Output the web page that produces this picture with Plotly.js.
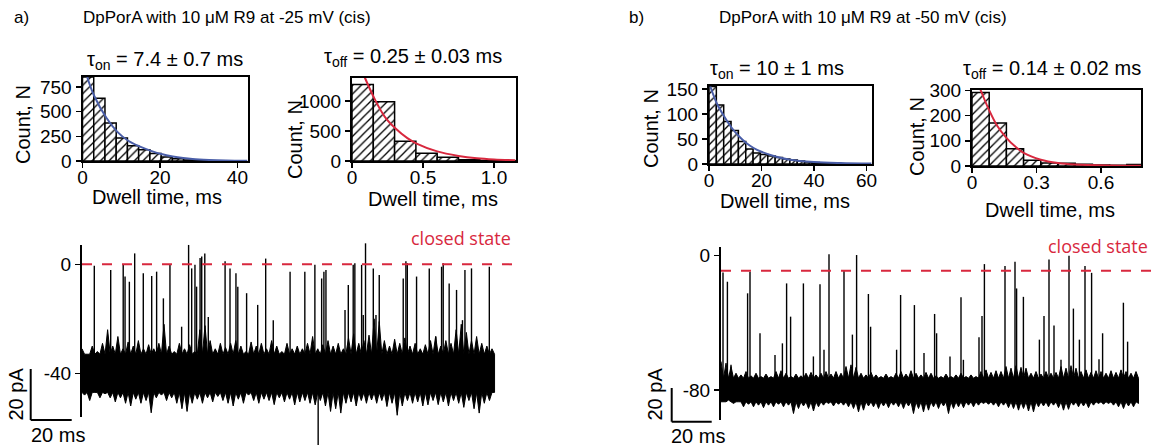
<!DOCTYPE html>
<html>
<head>
<meta charset="utf-8">
<script src="https://cdn.plot.ly/plotly-3.0.1.min.js"></script>
<style>html,body{margin:0;padding:0;background:#fff;}#chart{width:1152px;height:447px;}</style>
</head>
<body>
<div id="chart"></div>
<script>
// ---------------- DATA ----------------
// Panel a) histograms (-25 mV)
const aOnBins   = [0, 2.9, 5.8, 8.7, 11.6, 14.5, 17.4, 20.3, 23.2, 26.1, 29, 31.9, 34.8, 37.7];
const aOnCounts = [850, 635, 384, 233, 154, 113, 75, 41, 24, 10, 4, 2, 1, 1];
const aOnBinWidth = 2.9;
const aOnFitT = [1.2, 3, 6.2, 9, 11.8, 14.7, 17.7, 20.4, 23.3, 26, 28.4, 32.7, 37, 42.6];
const aOnFitN = [850, 660, 435, 295, 205, 148, 103, 70, 46, 30, 20, 11, 6, 3];

const aOffBins   = [0, 0.15, 0.3, 0.45, 0.6, 0.75, 0.9, 1.05];
const aOffCounts = [1275, 985, 330, 130, 61, 20, 10, 5];
const aOffBinWidth = 0.15;
const aOffFitT = [0.09, 0.16, 0.23, 0.307, 0.39, 0.455, 0.6, 0.75, 0.88, 1.0, 1.15];
const aOffFitN = [1390, 1030, 740, 540, 380, 290, 160, 85, 45, 25, 12];

// Panel b) histograms (-50 mV)
const bOnBins   = [0, 2.8, 5.6, 8.4, 11.2, 14, 16.8, 19.6, 22.4, 25.2, 28, 30.8, 33.6, 36.4, 39.2, 42, 44.8, 47.6];
const bOnCounts = [155, 118, 85, 67, 45, 30, 22, 19, 16, 13, 10, 8, 6, 4, 3, 2, 1, 1];
const bOnBinWidth = 2.8;
const bOnFitT = [0.5, 3.0, 5.8, 8.7, 11.5, 14.2, 17, 19.7, 25.3, 30.9, 40, 50, 62];
const bOnFitN = [155, 121, 95, 72, 55, 42, 32, 25, 15, 8.5, 4, 2, 1];

const bOffBins   = [0, 0.08, 0.16, 0.24, 0.32, 0.4, 0.48, 0.56, 0.64, 0.72];
const bOffCounts = [292, 171, 69, 23, 12, 11, 7, 4, 3, 6];
const bOffBinWidth = 0.08;
const bOffFitT = [0.039, 0.078, 0.117, 0.16, 0.2, 0.24, 0.32, 0.4, 0.48, 0.64, 0.786];
const bOffFitN = [304, 225, 160, 112, 78, 52, 25, 12, 6, 2, 1];

// Current traces: open-channel noise (pA). Dense core limits, plus the upper and
// lower noise excursions sampled every 2.5 ms, plus the gating spikes.
const bandStep = 2.5;
const coreA = [-33, -47];
const bandHiA = [-31,-33,-30,-32,-29,-24,-30,-26.5,-31,-28.5,-30,-28,-31,-29.5,-31,-29,-22,-30,-32,-29,
  -31,-29.5,-32,-24,-22.5,-28,-31,-29,-30.5,-29,-28,-30,-32,-28.5,-30,-29,-31,-28,-30,-32,
  -29,-31,-30,-31,-29,-26.5,-31,-29.5,-28,-30,-29,-31,-27,-25.5,-29,-28,-26,-20,-21,-28,
  -30,-27.5,-29,-27,-30,-29,-31,-29.5,-28,-26.5,-30,-28,-29,-24,-22,-25,-28,-26.5,-29,-30,-31];
const bandLoA = [-48,-50,-47,-49,-47.5,-49,-50.5,-49,-51,-52,-49.5,-51,-50,-54.5,-49,-48,-50,-49,-51,-53,
  -54,-51,-49.5,-51,-49,-50.5,-48.5,-50,-51,-52,-49.5,-51,-48,-50,-51,-49.5,-50,-51.5,-49,-50.5,
  -49.5,-51.6,-50.5,-50,-51,-51.6,-50,-52,-54,-53,-54.6,-51,-50.5,-52,-50,-51,-49.8,-51,-50,-52.2,
  -51,-55.4,-52,-50,-51,-50.5,-52,-51.6,-50,-51.5,-50.5,-52,-50,-51,-52.5,-50,-53,-54.6,-51,-50,-47];
const openLevelA = -40;
const closedLevelA = 0;
const spikeTA = [6.0,14.0,20.1,21.0,23.1,25.7,29.9,34.0,36.4,39.7,42.9,48.6,52.0,53.5,55.1,55.9,57.6,58.4,59.9,61.6,
  69.8,72.2,75.1,76.0,80.3,85.7,89.6,93.3,101.5,108.7,113.6,115.2,116.9,118.0,119.0,128.3,129.9,132.3,133.1,136.4,
  137.2,138.3,142.1,143.4,145.0,156.7,158.0,158.7,163.2,169.4,172.6,175.4,176.2,179.1,182.7,185.6,186.8,190.0,198.7];
const spikePA = [-0.5,-2.1,0.0,-4.5,-6.4,4.0,-3.3,-4.3,-2.7,-12.5,-0.2,-22.9,7.1,-1.5,-0.2,-8.2,2.3,2.9,4.0,-19.3,
  1.1,-1.5,-3.3,-8.2,-10.6,-14.9,2.1,-20.5,-2.7,-2.7,-0.2,-66.3,-5.2,-2.7,-2.1,-16.8,-7.6,-0.2,0.4,-0.2,
  -18.6,7.7,-1.5,-18.6,-3.9,-5.2,1.1,0.4,-4.5,-1.5,-26.5,-0.9,0.4,-7.0,-9.4,-20.5,-2.1,-1.5,-0.9];

const coreB = [-73, -87];
const bandHiB = [-63,-64,-66,-70,-71,-69,-71.5,-70,-72,-70.5,-72,-69,-68.5,-70,-72,-70.5,-71.5,-70,-69.5,-71,
  -70,-69,-70.5,-69,-70,-66,-65,-66.5,-70,-71,-69.5,-71,-72,-70.5,-72,-70,-69,-70.5,-68.5,-70,
  -71,-69.5,-70,-71.5,-72,-70.5,-72,-71,-70,-72,-71,-72,-69,-68,-69.5,-68.5,-69,-66,-67,-65.5,
  -66.5,-67,-70,-69,-70.5,-69,-70,-69.5,-66,-67,-65.5,-67,-69,-68,-69.5,-68.5,-69,-70,-68.5,-69.5,
  -68,-69,-70,-69];
const bandLoB = [-87,-86,-88,-87,-90,-88.5,-90,-89,-90.5,-89,-90,-88.5,-90,-89,-94,-91,-89.5,-91,-92.5,-90,
  -89,-88,-89.5,-88.5,-89,-90,-91,-93,-92,-89.5,-90,-91,-89.5,-90.5,-89,-90,-91,-89.5,-94,-91,
  -93,-92,-90,-91,-89.5,-94,-91,-90,-90.5,-89,-90,-89,-88,-88.5,-89,-90,-89,-90.5,-91,-92,
  -91,-92.5,-93,-90,-89.5,-90,-89,-90.5,-92,-91.5,-89,-90,-89.5,-90.5,-89,-88,-88.5,-88,-89,-90,
  -91,-89.5,-90,-88];
const openLevelB = -80;
const closedLevelB = -9;
const spikeTB = [1.0,3.2,5.0,13.3,14.5,19.5,27.0,30.7,32.8,34.8,41.2,46.2,49.5,51.5,54.0,61.5,65.7,67.8,73.7,74.8,
  87.8,89.8,96.7,101.5,106.8,107.8,114.5,120.0,121.2,129.0,130.5,131.7,142.0,147.0,147.8,151.2,159.2,161.5,164.0,166.5,
  170.0,174.0,176.2,179.2,182.0,185.3,189.0,190.8,201.2,203.3];
const spikePB = [-10,-15.5,-65,-22.4,-9.5,-46.2,-59.2,-52.2,-16.5,-36.3,-16.5,-60,-17,-56,0.8,-8.5,-47,0.4,-22.8,-42.3,
  -56,-23.4,-29.4,-58,-34.7,-46.2,-60,-24.8,-62,-48.6,-35.9,-5.0,-6.2,-3.6,-19.5,-24.5,-50,-35.9,-2.2,-41.5,
  -62,0,-31.5,-50,-6.2,-10.2,-61.7,-46.2,-28,-51.2];

// Text
const titleA = 'DpPorA with 10 μM R9 at -25 mV (cis)';
const titleB = 'DpPorA with 10 μM R9 at -50 mV (cis)';
const tauAOn = 'τ<sub>on</sub> = 7.4 ± 0.7 ms';
const tauAOff = 'τ<sub>off</sub> = 0.25 ± 0.03 ms';
const tauBOn = 'τ<sub>on</sub> = 10 ± 1 ms';
const tauBOff = 'τ<sub>off</sub> = 0.14 ± 0.02 ms';

// ---------------- LAYOUT HELPERS ----------------
const W = 1152, H = 447;
const F = 'Liberation Sans, Arial, Helvetica, sans-serif';
const RED = '#d8283e', BLUE = '#4a5ea8';
const xd = (a, b) => [a / W, b / W];
const yd = (top, bottom) => [1 - bottom / H, 1 - top / H];
const px = p => p / W;
const py = p => 1 - p / H;

function histAxis(extra) {
  return Object.assign({
    showline: true, linecolor: 'black', linewidth: 2, mirror: true,
    ticks: 'outside', ticklen: 5, tickwidth: 1.5, tickcolor: 'black',
    showgrid: false, zeroline: false, fixedrange: true,
    tickfont: {family: F, size: 19, color: 'black'}
  }, extra);
}
const hidden = {visible: false, showgrid: false, zeroline: false, fixedrange: true};

function barTrace(bins, counts, w, xa, ya) {
  return {type: 'bar', x: bins, y: counts, width: w, offset: 0, xaxis: xa, yaxis: ya,
    marker: {color: 'white', line: {color: 'black', width: 1.5},
      pattern: {shape: '/', fgcolor: 'black', bgcolor: 'white', size: 6, solidity: 0.22}},
    hoverinfo: 'skip', showlegend: false};
}
function fitTrace(t, n, color, xa, ya) {
  return {type: 'scatter', mode: 'lines', x: t, y: n, xaxis: xa, yaxis: ya,
    line: {color: color, width: 2, shape: 'spline'}, hoverinfo: 'skip', showlegend: false};
}
// noise band: filled core whose edges are jagged by the sampled excursions
function bandTrace(hi, lo, core, xa, ya) {
  const x = [], y = [];
  hi.forEach((h, i) => { x.push(i * bandStep, i * bandStep + bandStep / 2); y.push(h, core[0]); });
  for (let i = lo.length - 1; i >= 0; i--) { x.push(i * bandStep + bandStep / 2, i * bandStep); y.push(lo[i], core[1]); }
  return {type: 'scatter', mode: 'lines', x: x, y: y, fill: 'toself', fillcolor: 'black',
    line: {color: 'black', width: 1}, xaxis: xa, yaxis: ya, hoverinfo: 'skip', showlegend: false};
}
function spikeTrace(ts, ps, base, xa, ya) {
  const x = [], y = [];
  ts.forEach((t, i) => { x.push(t, t, null); y.push(base, ps[i], null); });
  return {type: 'scatter', mode: 'lines', x: x, y: y, line: {color: 'black', width: 1.4},
    xaxis: xa, yaxis: ya, hoverinfo: 'skip', showlegend: false};
}
function closedTrace(level, xEnd, xa, ya) {
  return {type: 'scatter', mode: 'lines', x: [0, xEnd], y: [level, level],
    line: {color: RED, width: 2, dash: '10px,10px'}, xaxis: xa, yaxis: ya, hoverinfo: 'skip', showlegend: false};
}

const data = [
  barTrace(aOnBins, aOnCounts, aOnBinWidth, 'x', 'y'),
  fitTrace(aOnFitT, aOnFitN, BLUE, 'x', 'y'),
  barTrace(aOffBins, aOffCounts, aOffBinWidth, 'x2', 'y2'),
  fitTrace(aOffFitT, aOffFitN, RED, 'x2', 'y2'),
  barTrace(bOnBins, bOnCounts, bOnBinWidth, 'x3', 'y3'),
  fitTrace(bOnFitT, bOnFitN, BLUE, 'x3', 'y3'),
  barTrace(bOffBins, bOffCounts, bOffBinWidth, 'x4', 'y4'),
  fitTrace(bOffFitT, bOffFitN, RED, 'x4', 'y4'),
  bandTrace(bandHiA, bandLoA, coreA, 'x5', 'y5'),
  spikeTrace(spikeTA, spikePA, openLevelA, 'x5', 'y5'),
  closedTrace(closedLevelA, 212.5, 'x5', 'y6'),
  bandTrace(bandHiB, bandLoB, coreB, 'x6', 'y7'),
  spikeTrace(spikeTB, spikePB, openLevelB, 'x6', 'y7'),
  closedTrace(closedLevelB, 216, 'x6', 'y8')
];

// pixel-to-value mapping for trace panels
const aY = p => (264.3 - p) / 2.725;   // pA at pixel row (panel a)
const bY = p => (255.7 - p) / 1.679;   // pA at pixel row (panel b)

const traceYAxis = {showline: true, linecolor: 'black', linewidth: 2, ticks: 'outside', ticklen: 5,
  tickwidth: 1.5, tickcolor: 'black', showgrid: false, zeroline: false, fixedrange: true,
  tickfont: {family: F, size: 19, color: 'black'}};

const layout = {
  width: W, height: H, margin: {l: 0, r: 0, t: 0, b: 0},
  paper_bgcolor: 'white', plot_bgcolor: 'rgba(0,0,0,0)', showlegend: false,
  font: {family: F, color: 'black'},
  // a-on histogram
  xaxis: histAxis({domain: xd(82.5, 247.5), range: [0, 42.6], anchor: 'y', tickvals: [0, 20, 40], ticklabelstandoff: -7}),
  yaxis: histAxis({domain: yd(77, 161), range: [0, 850], anchor: 'x', tickvals: [0, 250, 500, 750]}),
  // a-off histogram
  xaxis2: histAxis({domain: xd(352, 516), range: [0, 1.155], anchor: 'y2', tickvals: [0, 0.5, 1.0], ticktext: ['0', '0.5', '1.0'], ticklabelstandoff: -7}),
  yaxis2: histAxis({domain: yd(77.5, 161), range: [0, 1390], anchor: 'x2', tickvals: [0, 500, 1000]}),
  // b-on histogram
  xaxis3: histAxis({domain: xd(709, 871.5), range: [0, 61.9], anchor: 'y3', tickvals: [0, 20, 40, 60], ticklabelstandoff: -7}),
  yaxis3: histAxis({domain: yd(85.5, 164), range: [0, 157], anchor: 'x3', tickvals: [0, 50, 100, 150]}),
  // b-off histogram
  xaxis4: histAxis({domain: xd(972, 1141), range: [0, 0.786], anchor: 'y4', tickvals: [0, 0.3, 0.6], ticktext: ['0', '0.3', '0.6'], ticklabelstandoff: -7}),
  yaxis4: histAxis({domain: yd(89.5, 166), range: [0, 304], anchor: 'x4', tickvals: [0, 100, 200, 300]}),
  // trace a
  xaxis5: Object.assign({}, hidden, {domain: xd(82, 520), range: [0, (520 - 82) / 2.05], anchor: 'y5'}),
  yaxis5: Object.assign({}, hidden, {domain: yd(240, 447), range: [aY(447), aY(240)], anchor: 'x5'}),
  yaxis6: Object.assign({}, traceYAxis, {domain: yd(245, 417), range: [aY(417), aY(245)], anchor: 'x5',
    tickvals: [0, -40], ticktext: ['0', '-40']}),
  // trace b
  xaxis6: Object.assign({}, hidden, {domain: xd(721, 1152), range: [0, (1152 - 721) / 2.0], anchor: 'y7'}),
  yaxis7: Object.assign({}, hidden, {domain: yd(247, 447), range: [bY(447), bY(247)], anchor: 'x6'}),
  yaxis8: Object.assign({}, traceYAxis, {domain: yd(247, 420), range: [bY(420), bY(247)], anchor: 'x6',
    tickvals: [0, -80], ticktext: ['0', '-80']}),
  shapes: [
    // scale bars
    {type: 'line', xref: 'paper', yref: 'paper', x0: px(30.7), x1: px(30.7), y0: py(369), y1: py(420), line: {color: 'black', width: 2}},
    {type: 'line', xref: 'paper', yref: 'paper', x0: px(30.7), x1: px(71.7), y0: py(420), y1: py(420), line: {color: 'black', width: 2}},
    {type: 'line', xref: 'paper', yref: 'paper', x0: px(671.7), x1: px(671.7), y0: py(388), y1: py(421.7), line: {color: 'black', width: 2}},
    {type: 'line', xref: 'paper', yref: 'paper', x0: px(671.7), x1: px(711.7), y0: py(421.7), y1: py(421.7), line: {color: 'black', width: 2}}
  ],
  annotations: []
};

function ann(text, x, y, opts) {
  layout.annotations.push(Object.assign({text: text, xref: 'paper', yref: 'paper', x: px(x), y: py(y),
    showarrow: false, xanchor: 'center', yanchor: 'middle', font: {family: F, size: 20, color: 'black'}}, opts || {}));
}
const TF = {family: F, size: 17, color: 'black'};
// main titles
ann('a)', 12, 17.5, {xanchor: 'left', font: TF});
ann(titleA, 81, 17.5, {xanchor: 'left', font: TF});
ann('b)', 627, 17.5, {xanchor: 'left', font: TF});
ann(titleB, 716.5, 17.5, {xanchor: 'left', font: TF});
// tau titles
ann(tauAOn, 165, 60);
ann(tauAOff, 413, 58);
ann(tauBOn, 777, 69);
ann(tauBOff, 1052, 69);
// axis titles
ann('Dwell time, ms', 157, 197);
ann('Dwell time, ms', 433, 199);
ann('Dwell time, ms', 785, 201);
ann('Dwell time, ms', 1050, 210);
ann('Count, N', 23, 125, {textangle: -90});
ann('Count, N', 295, 140, {textangle: -90});
ann('Count, N', 651, 129, {textangle: -90});
ann('Count, N', 917, 137, {textangle: -90});
// closed state labels
ann('closed state', 461, 238, {font: {family: 'Open Sans, sans-serif', size: 18, color: RED}});
ann('closed state', 1098, 246, {font: {family: 'Open Sans, sans-serif', size: 18, color: RED}});
// scale bar labels
ann('20 pA', 15.5, 394, {textangle: -90});
ann('20 ms', 58, 434.5);
ann('20 pA', 654.5, 394, {textangle: -90});
ann('20 ms', 698, 436);

Plotly.newPlot('chart', data, layout, {staticPlot: true, displayModeBar: false});
</script>
</body>
</html>
